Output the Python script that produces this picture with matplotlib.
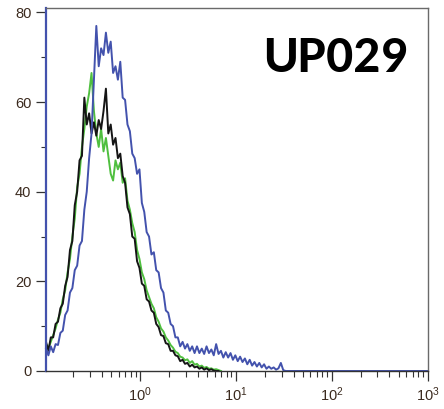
import numpy as np
import matplotlib
matplotlib.use("Agg")
import matplotlib.pyplot as plt
from matplotlib import font_manager as fm
from matplotlib.ticker import FixedLocator, NullFormatter

# Histogram channels (log10 of fluorescence intensity), 0.025-decade bins
log_start = -0.98
log_step = 0.025

blue_counts = [5.0, 3.5, 5.5, 4.2, 6.0, 5.8, 8.5, 9.0, 12.5, 13.5,
               17.5, 18.5, 22.5, 23.5, 28.0, 29.0, 36.0, 40.0, 47.5, 53.0,
               65.0, 77.0, 68.0, 72.0, 70.5, 75.5, 71.0, 73.5, 66.5, 68.0,
               65.0, 69.0, 61.0, 60.5, 55.0, 53.5, 48.5, 47.5, 44.0, 45.0,
               37.5, 35.5, 31.0, 30.0, 26.0, 26.5, 22.5, 22.0, 18.5, 17.5,
               13.5, 13.0, 10.5, 10.0, 7.5, 7.5, 5.5, 6.5, 5.0, 6.0,
               4.5, 5.5, 4.0, 5.5, 4.0, 5.0, 3.8, 5.5, 4.0, 4.8,
               3.5, 6.0, 3.8, 4.5, 3.0, 4.2, 3.0, 4.0, 2.5, 3.5,
               2.2, 3.2, 2.0, 2.8, 1.5, 2.5, 1.2, 2.0, 1.0, 1.8,
               0.8, 1.5, 0.5, 1.0, 0.5, 0.8, 0.3, 0.6, 1.8, 0.2,
               0.0, 0.0]

black_counts = [6.5, 4.5, 7.5, 7.5, 10.5, 11.0, 14.0, 15.0, 19.0, 21.0,
                27.0, 29.0, 37.0, 40.0, 47.0, 48.0, 61.0, 55.0, 57.5, 53.0,
                55.5, 52.5, 56.0, 54.0, 58.0, 63.0, 53.0, 55.0, 50.5, 52.0,
                47.5, 48.5, 43.5, 42.0, 36.5, 35.0, 30.0, 29.5, 24.5, 23.0,
                19.5, 19.0, 16.0, 15.5, 13.5, 13.0, 10.5, 9.8, 8.0, 7.8,
                6.2, 6.0, 4.5, 4.5, 3.5, 3.3, 2.2, 2.5, 1.6, 1.8,
                1.0, 1.4, 0.8, 1.0, 0.5, 0.8, 0.3, 0.6, 0.2, 0.4,
                0.1, 0.0, 0.0]

green_counts = [6.0, 5.0, 6.5, 8.0, 9.5, 11.5, 13.0, 16.0, 18.0, 22.0,
                25.0, 30.0, 34.0, 41.0, 44.0, 50.0, 54.0, 59.0, 62.0, 66.5,
                58.0, 53.0, 50.0, 54.0, 49.0, 52.0, 48.0, 44.0, 42.5, 47.0,
                45.0, 46.5, 42.0, 43.0, 38.0, 36.0, 33.0, 31.0, 27.0, 25.0,
                22.0, 20.5, 18.0, 16.5, 15.0, 14.0, 12.0, 11.0, 9.5, 8.8,
                7.5, 6.8, 5.8, 5.2, 4.3, 4.0, 3.2, 3.0, 2.4, 2.6,
                1.8, 2.2, 1.4, 1.6, 1.0, 1.2, 0.7, 0.9, 0.5, 0.6,
                0.3, 0.4, 0.2, 0.0]

x_tick_values = [1, 10, 100, 1000]
x_tick_labels = [r"$10^{0}$", r"$10^{1}$", r"$10^{2}$", r"$10^{3}$"]
y_tick_values = [0, 20, 40, 60, 80]
y_minor_values = [10, 30, 50, 70]
title_text = "UP029"

plt.rcParams["font.family"] = ["Liberation Sans", "DejaVu Sans"]
plt.rcParams["mathtext.default"] = "regular"


def channels(n):
    return 10 ** (log_start + log_step * np.arange(n))


fig = plt.figure(figsize=(4.44, 4.09), dpi=100)
ax = fig.add_axes([46 / 444, 38 / 409, 382 / 444, 363 / 409])

blue_c = "#4352ad"
green_c = "#4fbf3f"
black_c = "#151515"

ax.plot(channels(len(green_counts)), green_counts, color=green_c, lw=1.4)
ax.plot(channels(len(black_counts)), black_counts, color=black_c, lw=1.4)
xb = np.append(channels(len(blue_counts)), 1000)
yb = np.append(blue_counts, 0.0)
ax.plot(xb, yb, color=blue_c, lw=1.4, clip_on=False)

ax.set_xscale("log")
ax.set_xlim(10 ** -0.98, 10 ** 3.005)
ax.set_ylim(0, 81)

ax.xaxis.set_major_locator(FixedLocator(x_tick_values))
ax.set_xticklabels(x_tick_labels)
ax.xaxis.set_minor_locator(matplotlib.ticker.LogLocator(base=10, subs=np.arange(2, 10), numticks=20))
ax.xaxis.set_minor_formatter(NullFormatter())
ax.yaxis.set_major_locator(FixedLocator(y_tick_values))
ax.yaxis.set_minor_locator(FixedLocator(y_minor_values))

lab_c = "#3b2a1e"
ax.tick_params(axis="both", which="major", length=7.5, width=0.9, color="#333333",
               labelsize=10.5, labelcolor=lab_c, pad=3)
ax.tick_params(axis="x", which="minor", length=4.5, width=0.8, color="#333333")
ax.tick_params(axis="y", which="minor", length=3.5, width=0.8, color="#333333")

for s in ["top", "right"]:
    ax.spines[s].set_color("#6a6a6a")
    ax.spines[s].set_linewidth(1.0)
ax.spines["left"].set_color(blue_c)
ax.spines["left"].set_linewidth(1.6)
ax.spines["bottom"].set_color("#333333")
ax.spines["bottom"].set_linewidth(1.0)

# pick a narrow bold sans if available (reference uses Calibri Bold)
installed = {f.name for f in fm.fontManager.ttflist}
family = "DejaVu Sans"
for cand in ["Carlito", "Liberation Sans Narrow", "Roboto Condensed", "Open Sans Condensed",
             "Lato", "Open Sans", "Roboto", "Noto Sans"]:
    if cand in installed:
        family = cand
        break

txt = fig.text(263 / 444, 1 - 72 / 409, title_text, ha="left", va="baseline",
               fontsize=40, fontweight="bold", family=family, color="black")
fig.canvas.draw()
r = fig.canvas.get_renderer()
w = txt.get_window_extent(r).width
target_w = 144.0
txt.set_fontsize(40 * target_w / w)

fig.savefig("out.png", dpi=100)
